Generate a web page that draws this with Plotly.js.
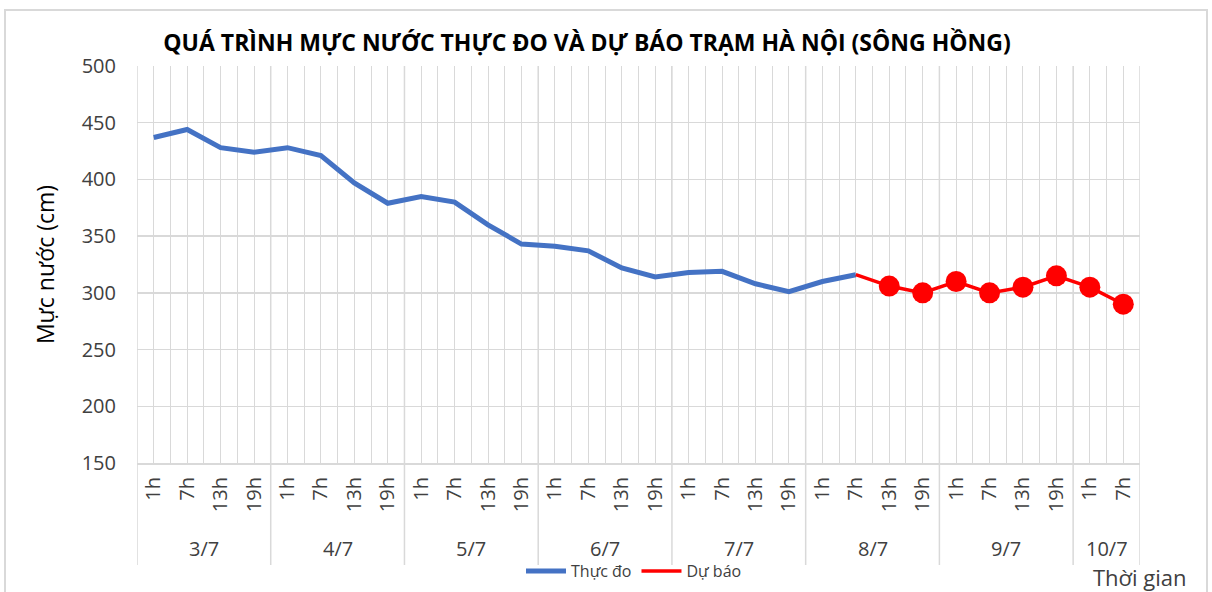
<!DOCTYPE html>
<html>
<head>
<meta charset="utf-8">
<script src="https://cdn.plot.ly/plotly-3.0.1.min.js"></script>
<style>
  html, body { margin: 0; padding: 0; background: #ffffff; }
  #frame { position: absolute; left: 4px; top: 9px; width: 1204px; height: 620px; border: 2px solid #d9d9d9; box-sizing: border-box; }
  #chart { position: absolute; left: 0; top: 0; width: 1212px; height: 592px; }
</style>
</head>
<body>
<div id="frame"></div>
<div id="chart"></div>
<script>
// ---- data ----
const days = ['3/7', '4/7', '5/7', '6/7', '7/7', '8/7', '9/7', '10/7'];
const hoursFull = ['1h', '7h', '13h', '19h'];
const hoursLast = ['1h', '7h'];
const observed = [437, 444, 428, 424, 428, 421, 397, 379, 385, 380, 360, 343, 341, 337, 322, 314, 318, 319, 308, 301, 310, 316];
const forecast = [316, 306, 300, 310, 300, 305, 315, 305, 290];
const yTicks = [150, 200, 250, 300, 350, 400, 450, 500];

// ---- build category positions ----
const hourLabels = [];
const dayGroups = [];
days.forEach(function (d, i) {
  const hrs = (i === days.length - 1) ? hoursLast : hoursFull;
  const start = hourLabels.length;
  hrs.forEach(function (h) { hourLabels.push(h); });
  dayGroups.push({ label: d, start: start, end: hourLabels.length - 1 });
});
const idx = hourLabels.map(function (_, i) { return i; });
const obsX = idx.slice(0, observed.length);
const fcStart = observed.length - 1;
const fcX = idx.slice(fcStart, fcStart + forecast.length);

const grid = '#d9d9d9';
const txt = '#404040';
const fnt = 'Open Sans, Noto Sans, sans-serif';

const traces = [
  { x: obsX, y: observed, type: 'scatter', mode: 'lines', name: 'Thực đo',
    line: { color: '#4472C4', width: 5 } },
  { x: fcX, y: forecast, type: 'scatter', mode: 'lines', name: 'Dự báo',
    line: { color: '#FF0000', width: 3.5 } },
  { x: fcX.slice(1), y: forecast.slice(1), type: 'scatter', mode: 'markers', showlegend: false,
    marker: { color: '#FF0000', size: 21 } }
];

const plotBottomPx = 463, plotTopPx = 66;
const plotH = plotBottomPx - plotTopPx;
const pxToPaperY = function (py) { return (plotBottomPx - py) / plotH; };

const annotations = dayGroups.map(function (g) {
  return { x: (g.start + g.end) / 2, xref: 'x', y: pxToPaperY(548), yref: 'paper',
    text: g.label, showarrow: false, xanchor: 'center', yanchor: 'middle',
    font: { family: fnt, size: 20, color: txt } };
});
annotations.push({ x: 1, xref: 'paper', y: pxToPaperY(577), yref: 'paper', text: 'Thời gian',
  showarrow: false, xanchor: 'center', yanchor: 'middle', font: { family: fnt, size: 22, color: txt } });

const shapes = [];
const bounds = [dayGroups[0].start - 0.5].concat(dayGroups.map(function (g) { return g.end + 0.5; }));
bounds.forEach(function (b) {
  shapes.push({ type: 'line', xref: 'x', yref: 'paper', x0: b, x1: b, y0: 1, y1: pxToPaperY(565),
    line: { color: grid, width: 1.5 }, layer: 'below' });
});

const layout = {
  width: 1212, height: 592,
  margin: { l: 137, r: 72, t: plotTopPx, b: 592 - plotBottomPx },
  paper_bgcolor: 'rgba(0,0,0,0)', plot_bgcolor: 'rgba(0,0,0,0)',
  title: { text: '<b>QUÁ TRÌNH MỰC NƯỚC THỰC ĐO VÀ DỰ BÁO TRẠM HÀ NỘI (SÔNG HỒNG)</b>',
    x: 587 / 1212, xanchor: 'center', y: 1 - 43 / 592, yanchor: 'middle',
    font: { family: fnt, size: 23, color: '#000000' } },
  xaxis: {
    type: 'linear', range: [-0.5, hourLabels.length - 0.5], fixedrange: true, automargin: false,
    tickmode: 'array', tickvals: idx, ticktext: hourLabels, tickangle: -90,
    ticks: '', ticklabelstandoff: 4,
    tickfont: { family: fnt, size: 20, color: txt },
    showgrid: true, gridcolor: grid, gridwidth: 1,
    minor: { tickmode: 'linear', tick0: -0.5, dtick: 1, showgrid: true, gridcolor: grid, gridwidth: 1, ticks: '' },
    showline: true, linecolor: grid, linewidth: 2, zeroline: false
  },
  yaxis: {
    range: [150, 500], tickmode: 'array', tickvals: yTicks, fixedrange: true, automargin: false,
    ticks: '', ticklabelstandoff: 20,
    tickfont: { family: fnt, size: 20, color: txt },
    showgrid: true, gridcolor: grid, gridwidth: 1.5, zeroline: false, showline: false,
    title: { text: 'Mực nước (cm)', standoff: 20, font: { family: fnt, size: 23, color: '#000000' } }
  },
  legend: { orientation: 'h', xref: 'container', x: 634 / 1212, xanchor: 'center',
    yref: 'container', y: 1 - 571 / 592, yanchor: 'middle',
    font: { family: fnt, size: 16, color: txt }, bgcolor: 'rgba(0,0,0,0)', itemwidth: 40 },
  annotations: annotations,
  shapes: shapes,
  showlegend: true
};

Plotly.newPlot('chart', traces, layout, { displayModeBar: false, staticPlot: true });
</script>
</body>
</html>
